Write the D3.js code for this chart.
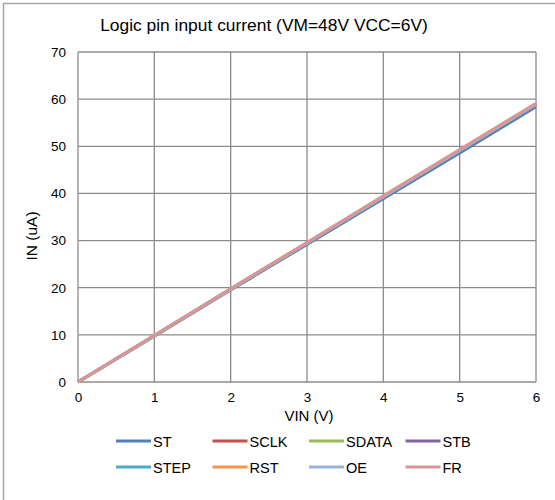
<!DOCTYPE html>
<html>
<head>
<meta charset="utf-8">
<script src="https://cdn.jsdelivr.net/npm/d3@7"></script>
<style>
  body { margin: 0; background: #fff; }
  text { font-family: "Liberation Sans", Arial, sans-serif; fill: #000; }
</style>
</head>
<body>
<svg id="chart" width="555" height="500"></svg>
<script>
// data
var vin = [0, 1, 2, 3, 4, 5, 6];
var seriesNames = ["ST", "SCLK", "SDATA", "STB", "STEP", "RST", "OE", "FR"];
var seriesColors = ["#4F81BD", "#C0504D", "#9BBB59", "#8064A2", "#4BACC6", "#F79646", "#95B3D7", "#D99694"];
var ST    = [0, 9.7, 19.5, 29.2, 38.9, 48.6, 58.4];
var SCLK  = [0, 9.8, 19.7, 29.5, 39.3, 49.1, 58.9];
var SDATA = [0, 9.8, 19.7, 29.5, 39.3, 49.1, 58.9];
var STB   = [0, 9.8, 19.7, 29.5, 39.3, 49.1, 58.9];
var STEP  = [0, 9.8, 19.7, 29.5, 39.3, 49.1, 58.9];
var RST   = [0, 9.8, 19.7, 29.5, 39.3, 49.1, 58.9];
var OE    = [0, 9.8, 19.7, 29.5, 39.3, 49.1, 58.9];
var FR    = [0, 9.9, 19.8, 29.6, 39.5, 49.3, 59.1];
var seriesValues = [ST, SCLK, SDATA, STB, STEP, RST, OE, FR];
var xTicks = [0, 1, 2, 3, 4, 5, 6];
var yTicks = [0, 10, 20, 30, 40, 50, 60, 70];

var svg = d3.select("#chart");
var padding = { t: 52, r: 19, b: 118, l: 78 };
var plotW = 555 - padding.l - padding.r;
var plotH = 500 - padding.t - padding.b;

var xScale = d3.scaleLinear().domain([0, 6]).range([0, plotW]);
var yScale = d3.scaleLinear().domain([0, 70]).range([plotH, 0]);

// outer frame
svg.append("rect")
    .attr("x", 3.5).attr("y", 3.5)
    .attr("width", 600).attr("height", 600)
    .attr("fill", "none")
    .attr("stroke", "#a6a6a6")
    .attr("stroke-width", 1.5);

// title
svg.append("text")
    .attr("x", 264)
    .attr("y", 31)
    .attr("text-anchor", "middle")
    .style("font-size", "17.4px")
    .text("Logic pin input current (VM=48V VCC=6V)");

var g = svg.append("g")
    .attr("transform", `translate(${padding.l},${padding.t})`);

// grid
g.selectAll(".vgrid").data(xTicks).enter().append("line")
    .attr("class", "vgrid")
    .attr("x1", d => xScale(d)).attr("x2", d => xScale(d))
    .attr("y1", 0).attr("y2", plotH)
    .attr("stroke", "#8c8c8c").attr("stroke-width", 1.3);
g.selectAll(".hgrid").data(yTicks).enter().append("line")
    .attr("class", "hgrid")
    .attr("x1", 0).attr("x2", plotW)
    .attr("y1", d => yScale(d)).attr("y2", d => yScale(d))
    .attr("stroke", "#8c8c8c").attr("stroke-width", 1.3);

// axes (labels only)
var xAxis = d3.axisBottom(xScale).tickValues(xTicks).tickFormat(d3.format("d")).tickSize(0).tickPadding(10);
var yAxis = d3.axisLeft(yScale).tickValues(yTicks).tickSize(0).tickPadding(12);

g.append("g")
    .attr("transform", `translate(0,${plotH})`)
    .call(xAxis)
    .call(a => a.select(".domain").remove())
    .selectAll("text")
    .style("font-size", "13.5px")
    .style("font-family", "Liberation Sans, Arial, sans-serif");

g.append("g")
    .call(yAxis)
    .call(a => a.select(".domain").remove())
    .selectAll("text")
    .style("font-size", "13.5px")
    .style("font-family", "Liberation Sans, Arial, sans-serif");

// lines
var line = d3.line()
    .x((d, i) => xScale(vin[i]))
    .y(d => yScale(d));

seriesValues.forEach((vals, k) => {
    g.append("path")
        .datum(vals)
        .attr("fill", "none")
        .attr("stroke", seriesColors[k])
        .attr("stroke-width", 3)
        .attr("d", line);
});

// axis titles
svg.append("text")
    .attr("x", 309)
    .attr("y", 421)
    .attr("text-anchor", "middle")
    .style("font-size", "15px")
    .text("VIN (V)");

svg.append("text")
    .attr("transform", "translate(37,236) rotate(-90)")
    .attr("text-anchor", "middle")
    .style("font-size", "15.5px")
    .text("IN (uA)");

// legend
var legend = svg.append("g");
seriesNames.forEach((name, k) => {
    var col = k % 4, row = Math.floor(k / 4);
    var lx = 116 + col * 96.5;
    var ly = 441 + row * 26;
    legend.append("line")
        .attr("x1", lx).attr("x2", lx + 35)
        .attr("y1", ly).attr("y2", ly)
        .attr("stroke", seriesColors[k])
        .attr("stroke-width", 3);
    legend.append("text")
        .attr("x", lx + 37)
        .attr("y", ly + 5.5)
        .style("font-size", "14.5px")
        .text(name);
});
</script>
</body>
</html>
